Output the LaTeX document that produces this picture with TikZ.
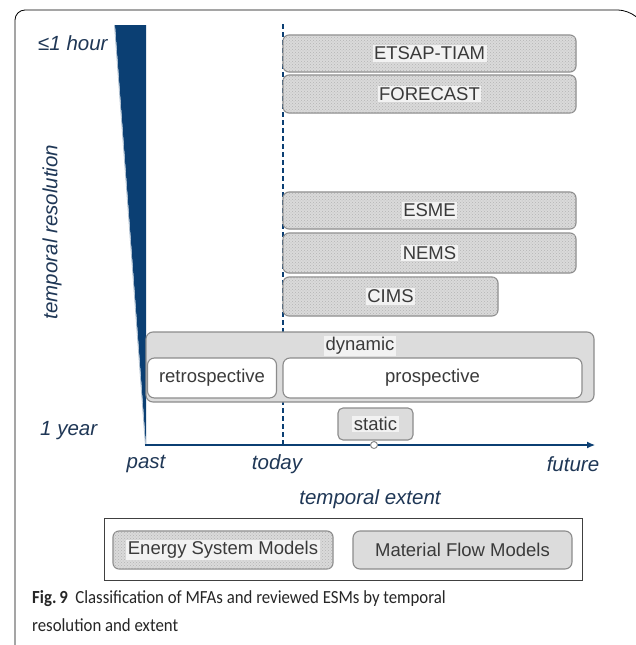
\documentclass[tikz,border=0pt]{standalone}
\usepackage{fontspec}
\setmainfont{Liberation Sans}
\newfontfamily\capfont{Carlito}
\usetikzlibrary{arrows.meta,patterns}
\definecolor{navy}{HTML}{0B3F73}
\definecolor{axislabel}{HTML}{1F3756}
\definecolor{boxtext}{HTML}{3A3A3A}
\definecolor{boxline}{HTML}{8C8C8C}
\definecolor{hatchbg}{HTML}{DADADA}
\definecolor{hatchdot}{HTML}{B4B4B4}
\definecolor{plainbg}{HTML}{DCDCDC}
\definecolor{textbg}{HTML}{F2F2F2}
\newcommand{\hltext}[1]{{\setlength{\fboxsep}{1.5pt}\colorbox{textbg}{#1}}}
\tikzset{
  boxfont/.style={font=\fontsize{18.5}{20}\selectfont},
  modelbox/.style={draw=boxline, line width=1.1pt, rounded corners=6pt,
    fill=hatchbg, postaction={pattern=crosshatch dots, pattern color=hatchdot},
    inner sep=0pt, text=boxtext, boxfont},
  plainbox/.style={draw=boxline, line width=1.1pt, rounded corners=7pt,
    fill=plainbg, inner sep=0pt, text=boxtext, boxfont},
  whitebox/.style={draw=boxline, line width=1.1pt, rounded corners=7pt,
    fill=white, inner sep=0pt, text=boxtext, boxfont},
  axistext/.style={text=axislabel, font=\fontsize{20.5}{22}\selectfont\itshape, inner sep=0pt},
}
\begin{document}
\begin{tikzpicture}[x=1pt,y=-1pt]
\useasboundingbox (0,0) rectangle (636,645);
\fill[white] (0,0) rectangle (636,645);

% outer frame, open at the bottom
\draw[line width=0.8pt, rounded corners=10pt] (15,650) -- (15,10) -- (628,10) -- (640,20);

% resolution wedge
\fill[navy] (115,25) -- (146,25) -- (146,446) -- cycle;
\draw[color=navy!35, line width=0.8pt] (114.5,25) -- (145.5,446);

% time axis and the present day
\coordinate (past) at (145,445);
\coordinate (fut) at (595,445);
\coordinate (ttop) at (283,24);
\coordinate (tbot) at (283,445);
\draw[navy, line width=1.1pt, dash pattern=on 5pt off 3pt] (ttop) -- (tbot);
\draw[navy, line width=1.2pt, -{Latex[length=8pt,width=7pt]}] (past) -- (fut);

% energy system models
\node[modelbox, minimum width=293pt, minimum height=37pt] (etsap) at (429.5,53.5) {\hltext{ETSAP-TIAM}};
\node[modelbox, minimum width=293pt, minimum height=38pt] (forecast) at (429.5,94) {\hltext{FORECAST}};
\node[modelbox, minimum width=293pt, minimum height=37pt] (esme) at (429.5,210.5) {\hltext{ESME}};
\node[modelbox, minimum width=293pt, minimum height=40pt] (nems) at (429.5,253) {\hltext{NEMS}};
\node[modelbox, minimum width=215pt, minimum height=39pt] (cims) at (390.5,296.5) {\hltext{CIMS}};

% material flow models
\node[plainbox, minimum width=448pt, minimum height=70pt] (dyn) at (370,367) {};
\node[text=boxtext, boxfont, inner sep=0pt] (dynlab) at (360,346) {\hltext{dynamic}};
\node[whitebox, minimum width=129pt, minimum height=40pt] (retro) at (212,378) {retrospective};
\node[whitebox, minimum width=299pt, minimum height=40pt] (prosp) at (432.5,378) {prospective};
\node[plainbox, rounded corners=5pt, minimum width=75pt, minimum height=32pt] (static) at (375.5,424) {\hltext{static}};
\node[circle, draw=boxline, fill=white, line width=1pt, minimum size=7pt, inner sep=0pt] (now) at (374,445) {};
\draw[boxline, line width=1pt] (now.north |- static.south) -- (now.north);

% axis labels
\node[axistext, anchor=west] (hour) at (38,43) {≤1 hour};
\node[axistext, rotate=90] (res) at (52,232) {temporal resolution};
\node[axistext, anchor=west] (year) at (40,431) {1 year};
\node[axistext] (lpast) at (146,464) {past};
\node[axistext] (ltoday) at (277,464) {today};
\node[axistext] (lfut) at (573,464) {future};
\node[axistext] (ext) at (370,499) {temporal extent};

% legend
\node[draw=black!75, line width=1pt, minimum width=478pt, minimum height=62pt, inner sep=0pt] (legend) at (343,549) {};
\node[modelbox, minimum width=220pt, minimum height=38pt] (lesm) at (223,550) {\hltext{Energy System Models}};
\node[plainbox, minimum width=219pt, minimum height=38pt] (lmfm) at (462.5,550) {Material Flow Models};

% caption
\node[anchor=west, inner sep=0pt, text=black!85, font=\capfont\fontsize{16.8}{26}\selectfont, align=left,
      transform shape, yscale=1.1] (cap) at (32,611)
  {\textbf{Fig.\,9}\ \ Classification of MFAs and reviewed ESMs by temporal\\resolution and extent};
\end{tikzpicture}
\end{document}
